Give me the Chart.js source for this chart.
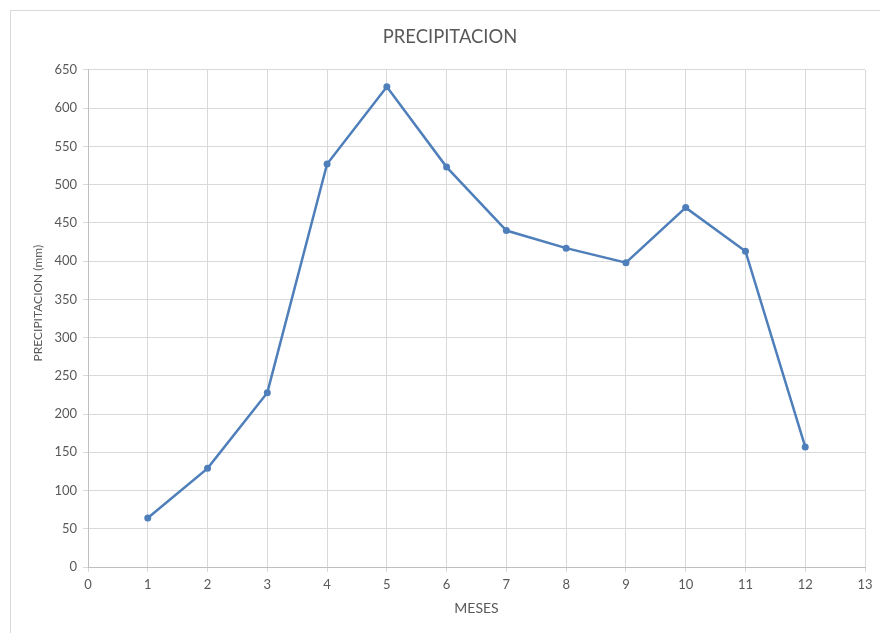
<!DOCTYPE html>
<html>
<head>
<meta charset="utf-8">
<script src="https://cdn.jsdelivr.net/npm/chart.js@4.4.0/dist/chart.umd.min.js"></script>
<style>
  html, body { margin: 0; padding: 0; background: #fff; overflow: hidden; }
  .frame { position: absolute; left: 10px; top: 10px; width: 900px; height: 700px; border: 1px solid #d9d9d9; }
  .wrap { position: absolute; left: 0; top: 0; width: 880px; height: 633px; overflow: hidden; }
</style>
</head>
<body>
<div class="frame"></div>
<div class="wrap"><canvas id="chart" width="900" height="633"></canvas></div>
<script>
// meses y precipitacion (mm)
const meses = [1, 2, 3, 4, 5, 6, 7, 8, 9, 10, 11, 12];
const precipitacion = [64, 129, 228, 527, 628, 523, 440, 417, 398, 470, 413, 157];
const xTicks = [0, 1, 2, 3, 4, 5, 6, 7, 8, 9, 10, 11, 12, 13];
const yTicks = [0, 50, 100, 150, 200, 250, 300, 350, 400, 450, 500, 550, 600, 650];

const textColor = "#595959";
const gridColor = "#d9d9d9";
const lineColor = "#4f7fba";

const points = meses.map((m, i) => ({ x: m, y: precipitacion[i] }));

const ctx = document.querySelector("#chart");
const myChart = new Chart(ctx, {
  type: "line",
  data: {
    datasets: [
      {
        label: "PRECIPITACION",
        data: points,
        borderColor: lineColor,
        backgroundColor: lineColor,
        borderWidth: 2.5,
        pointRadius: 3.5,
        pointBorderWidth: 0,
        tension: 0,
      },
    ],
  },
  options: {
    responsive: false,
    animation: false,
    // left/right padding keeps the title centred on the whole frame
    layout: { padding: { left: 35, right: 35, top: 0, bottom: 0 } },
    plugins: {
      legend: { display: false },
      tooltip: { enabled: false },
      title: {
        display: true,
        text: "PRECIPITACION",
        color: textColor,
        font: { family: "Lato", size: 18.4, weight: "normal" },
        padding: { top: 26, bottom: 21.9 },
      },
    },
    scales: {
      x: {
        type: "linear",
        min: xTicks[0],
        max: xTicks[xTicks.length - 1],
        afterBuildTicks: (scale) => {
          scale.ticks = xTicks.map((v) => ({ value: v }));
        },
        ticks: {
          color: textColor,
          font: { family: "Lato", size: 13 },
          padding: 5,
          maxRotation: 0,
        },
        grid: { color: gridColor, tickLength: 5, tickColor: gridColor },
        border: { color: "#bfbfbf" },
        title: {
          display: true,
          text: "MESES",
          color: textColor,
          font: { family: "Lato", size: 14 },
          padding: { top: 0, bottom: 16.6 },
        },
        afterFit: (scale) => {
          scale.height = 66;
        },
      },
      y: {
        min: yTicks[0],
        max: yTicks[yTicks.length - 1],
        afterBuildTicks: (scale) => {
          scale.ticks = yTicks.map((v) => ({ value: v }));
        },
        ticks: {
          color: textColor,
          font: { family: "Lato", size: 13 },
          padding: 6,
        },
        grid: { color: gridColor, tickLength: 5, tickColor: gridColor },
        border: { color: "#bfbfbf" },
        title: {
          display: true,
          // leading spaces lift the rotated text a bit, as in the original
          text: "          PRECIPITACION (mm)",
          color: textColor,
          font: { family: "Lato", size: 12 },
          padding: { top: -4.2, bottom: 0 },
        },
        afterFit: (scale) => {
          scale.width = 53;
        },
      },
    },
  },
});
</script>
</body>
</html>
